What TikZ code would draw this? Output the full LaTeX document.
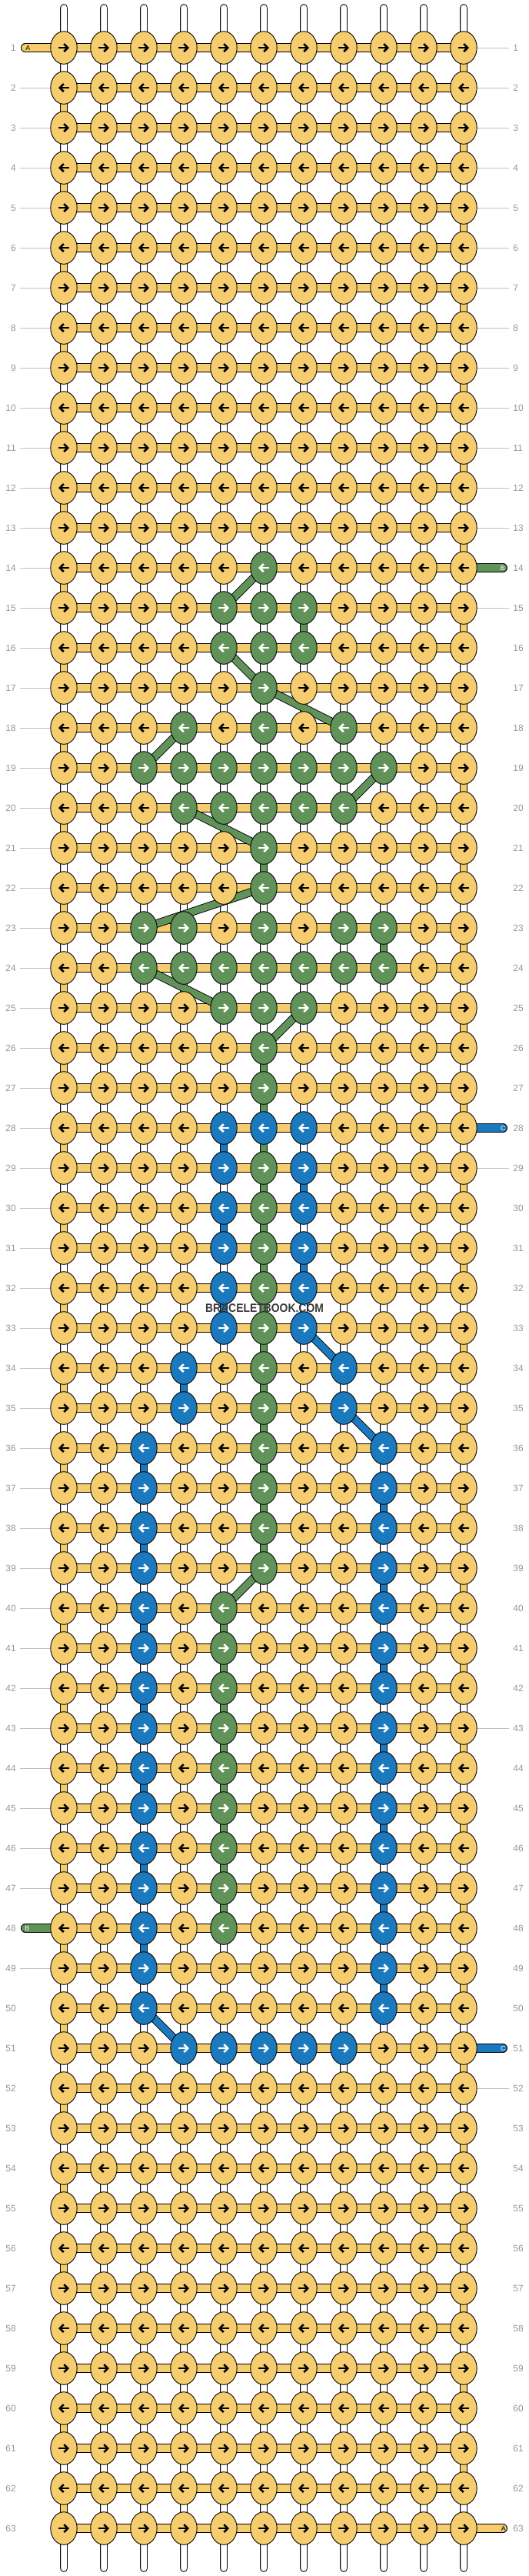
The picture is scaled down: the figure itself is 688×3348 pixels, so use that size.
\documentclass[tikz,border=0pt]{standalone}
\usepackage{fontspec}
\setmainfont{Liberation Sans}
\usetikzlibrary{arrows.meta,shapes.geometric}

\definecolor{colA}{RGB}{246,205,110}
\definecolor{colB}{RGB}{97,146,90}
\definecolor{colC}{RGB}{27,122,190}
\colorlet{arrA}{black}
\colorlet{arrB}{white}
\colorlet{arrC}{white}
\definecolor{labgray}{RGB}{150,150,150}
\definecolor{linegray}{RGB}{192,192,192}
\definecolor{warpgray}{RGB}{200,200,200}
\definecolor{markgray}{RGB}{58,58,58}

\pgfdeclarelayer{bg}
\pgfsetlayers{bg,main}

\tikzset{
  knot/.style={ellipse, draw=black, line width=0.018cm, minimum width=0.688cm,
    minimum height=0.852cm, inner sep=0pt},
  knotarrow/.style={line width=0.05cm, -{Straight Barb[length=0.1cm,width=0.2cm]}},
  warp/.style={line width=0.018cm, double distance=0.178cm, double=warpgray, line cap=round},
  warpcore/.style={white, line width=0.14cm, line cap=round},
  weftbar/.style={line width=0.018cm, double distance=0.198cm, double=#1},
  strand/.style={line width=0.018cm, double distance=0.178cm, double=#1},
  rowlab/.style={text=labgray, font=\fontsize{6.8pt}{8pt}\selectfont, inner sep=0.1cm},
  rowline/.style={draw=linegray, line width=0.02cm},
  taillab/.style={font=\fontsize{5pt}{6pt}\selectfont, inner sep=0pt},
}

\begin{document}
\begin{tikzpicture}[x=0.02cm, y=-0.02cm]
\useasboundingbox (0,0) rectangle (688,3348);

% colour of the knots that are not A
\foreach \r/\cs/\kc in {14/{6}/B, 15/{5,6,7}/B, 16/{5,6,7}/B, 17/{6}/B, 18/{4,6,8}/B,
    19/{3,...,9}/B, 20/{4,...,8}/B, 21/{6}/B, 22/{6}/B, 23/{3,4,6,8,9}/B,
    24/{3,...,9}/B, 25/{5,6,7}/B, 26/{6}/B, 27/{6}/B, 28/{5,6,7}/C,
    34/{4,8}/C, 35/{4,8}/C, 51/{4,...,8}/C}
  {\foreach \c in \cs {\expandafter\xdef\csname kc-\r-\c\endcsname{\kc}}}
\foreach \r in {29,...,39} {\expandafter\xdef\csname kc-\r-6\endcsname{B}}
\foreach \r in {40,...,48} {\expandafter\xdef\csname kc-\r-5\endcsname{B}}
\foreach \r in {29,...,33} {\foreach \c in {5,7} {\expandafter\xdef\csname kc-\r-\c\endcsname{C}}}
\foreach \r in {36,...,50} {\foreach \c in {3,9} {\expandafter\xdef\csname kc-\r-\c\endcsname{C}}}

% knots with their arrows
\foreach \r in {1,...,63} {
  \ifodd\r\relax \def\ad{1}\else \def\ad{-1}\fi
  \foreach \c in {1,...,11} {
    \ifcsname kc-\r-\c\endcsname \edef\kk{\csname kc-\r-\c\endcsname}\else \def\kk{A}\fi
    \edef\kfill{col\kk}\edef\acol{arr\kk}
    \node[knot, fill=\kfill] (k-\r-\c) at ({83+52*(\c-1)},{62+52*(\r-1)}) {};
    \draw[knotarrow, draw=\acol] (k-\r-\c.center) ++(-7*\ad,0) -- ++(14*\ad,0);
  }
}

% row numbers
\foreach \r in {1,...,63} {
  \node[rowlab, anchor=east] (ln-\r) at (26,{62+52*(\r-1)}) {\r};
  \node[rowlab, anchor=west] (rn-\r) at (662,{62+52*(\r-1)}) {\r};
}
\foreach \r in {2,...,47,49,...,63} \draw[rowline] (ln-\r) -- (k-\r-1);
\foreach \r in {1,...,13,15,...,27,29,...,50,52,...,62} \draw[rowline] (k-\r-11) -- (rn-\r);

% string ends and tails
\foreach \c in {1,...,11} {
  \coordinate (wt-\c) at ({83+52*(\c-1)},10.4);
  \coordinate (wb-\c) at ({83+52*(\c-1)},3337.6);
}
\coordinate (tail-A1) at (32.9,62);
\coordinate (tail-B48) at (32.9,{62+52*47});
\coordinate (tail-B14) at (654.1,{62+52*13});
\coordinate (tail-C28) at (654.1,{62+52*27});
\coordinate (tail-C51) at (654.1,{62+52*50});
\coordinate (tail-A63) at (654.1,{62+52*62});

\begin{pgfonlayer}{bg}
  \foreach \c in {1,...,11} {
    \draw[warp] (wt-\c) -- (wb-\c);
    \draw[warpcore] (wt-\c) -- (wb-\c);
  }
  \foreach \r in {1,...,63} \draw[weftbar=colA] (k-\r-1.center) -- (k-\r-11.center);
  \draw[weftbar=colA, line cap=round] (tail-A1) -- (k-1-1.center);
  \draw[weftbar=colA, line cap=round] (k-63-11.center) -- (tail-A63);
  \draw[weftbar=colB, line cap=round] (tail-B48) -- (k-48-1.center);
  \draw[weftbar=colB, line cap=round] (k-14-11.center) -- (tail-B14);
  \draw[weftbar=colC, line cap=round] (k-28-11.center) -- (tail-C28);
  \draw[weftbar=colC, line cap=round] (k-51-11.center) -- (tail-C51);
  % turns of the A thread at the edges
  \foreach \r in {1,...,62} {
    \pgfmathtruncatemacro\rn{\r+1}
    \ifodd\r\relax \def\ec{11}\else \def\ec{1}\fi
    \draw[strand=colA] (k-\r-\ec.center) -- (k-\rn-\ec.center);
  }
  % colour threads from row to row
  \foreach \r/\cf/\ct/\kc in {14/6/5/B, 15/7/7/B, 16/5/6/B, 17/6/8/B, 18/4/3/B,
      19/9/8/B, 20/4/6/B, 21/6/6/B, 22/6/3/B, 23/9/9/B, 24/3/5/B, 25/7/6/B,
      26/6/6/B, 27/6/6/B, 39/6/5/B,
      28/5/5/C, 29/7/7/C, 30/5/5/C, 31/7/7/C, 32/5/5/C, 33/7/8/C, 34/4/4/C,
      35/8/9/C, 50/3/4/C} {
    \pgfmathtruncatemacro\rn{\r+1}
    \draw[strand=col\kc] (k-\r-\cf.center) -- (k-\rn-\ct.center);
  }
  \foreach \r in {28,...,38} {
    \pgfmathtruncatemacro\rn{\r+1}
    \draw[strand=colB] (k-\r-6.center) -- (k-\rn-6.center);
  }
  \foreach \r in {40,...,47} {
    \pgfmathtruncatemacro\rn{\r+1}
    \draw[strand=colB] (k-\r-5.center) -- (k-\rn-5.center);
  }
  \foreach \r in {36,...,49} {
    \pgfmathtruncatemacro\rn{\r+1}
    \ifodd\r\relax \def\ec{9}\else \def\ec{3}\fi
    \draw[strand=colC] (k-\r-\ec.center) -- (k-\rn-\ec.center);
  }
\end{pgfonlayer}

\node[taillab, anchor=west] (lt-A1) at (33,62) {A};
\node[taillab, anchor=west, text=white] (lt-B48) at (32,{62+52*47}) {B};
\node[taillab, anchor=east, text=white] (lt-B14) at (657,{62+52*13}) {B};
\node[taillab, anchor=east, text=white] (lt-C28) at (658,{62+52*27}) {C};
\node[taillab, anchor=east, text=white] (lt-C51) at (658,{62+52*50}) {C};
\node[taillab, anchor=east] (lt-A63) at (658,{62+52*62}) {A};

\node[font=\bfseries\fontsize{8.8pt}{10pt}\selectfont, text=markgray, inner sep=0pt]
  (mark) at (344,1700) {\scalebox{0.9}[1]{BRACELETBOOK.COM}};

\end{tikzpicture}
\end{document}
